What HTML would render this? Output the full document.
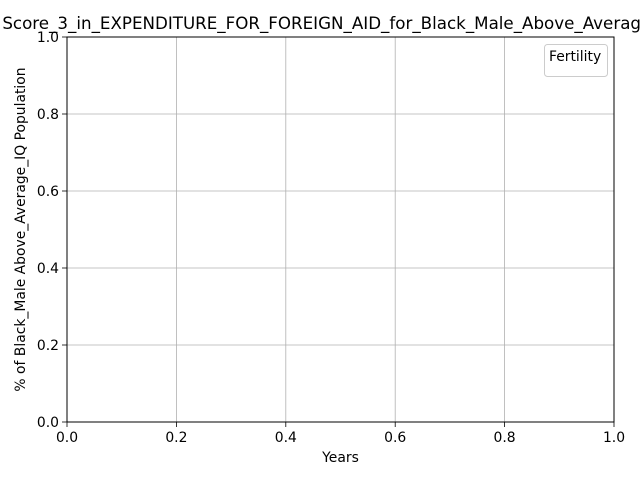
<!DOCTYPE html>
<html><head><meta charset="utf-8"><style>
html,body{margin:0;padding:0;background:#fff;}
svg{display:block;font-family:"DejaVu Sans","Liberation Sans",sans-serif;}
</style></head><body>
<svg id="chart" width="640" height="480" viewBox="0 0 640 480">
<rect width="640" height="480" fill="#fff"/>
<g id="grid"></g>
<g id="ticks"></g>
<rect x="67" y="37" width="547" height="385" fill="none" stroke="#000" stroke-width="1"/>
<text x="340" y="29" font-size="16.7" text-anchor="middle">Score_3_in_EXPENDITURE_FOR_FOREIGN_AID_for_Black_Male_Above_Average_IQ</text>
<text x="340.5" y="462" font-size="13.9" text-anchor="middle">Years</text>
<text transform="translate(25,229.5) rotate(-90)" font-size="13.9" text-anchor="middle">% of Black_Male Above_Average_IQ Population</text>
<g>
<rect x="544.5" y="44.5" width="63" height="32" rx="3" fill="#fff" fill-opacity="0.8" stroke="#ccc"/>
<text x="549" y="61" font-size="13.9">Fertility</text>
</g>
<g id="series"></g>
</svg>
<script>
const xTicks = [0.0, 0.2, 0.4, 0.6, 0.8, 1.0];
const yTicks = [0.0, 0.2, 0.4, 0.6, 0.8, 1.0];
const years = [];
const values = [];
const X0 = 67, X1 = 614, Y0 = 422, Y1 = 37;
function sx(v){ return X0 + (v - 0) / (1 - 0) * (X1 - X0); }
function sy(v){ return Y0 - (v - 0) / (1 - 0) * (Y0 - Y1); }
const NS = "http://www.w3.org/2000/svg";
const grid = document.getElementById('grid');
const ticks = document.getElementById('ticks');
function mk(tag, attrs, parent){ const e = document.createElementNS(NS, tag); for (const k in attrs) e.setAttribute(k, attrs[k]); parent.appendChild(e); return e; }
xTicks.forEach(t => {
  const x = sx(t);
  const g = mk('line', {x1:x, x2:x, y1:Y1, y2:Y0, stroke:'#b0b0b0', 'stroke-width':0.8}, grid);
  
  
  const tk = mk('line', {x1:x, x2:x, y1:Y0, y2:Y0+5, stroke:'#000', 'stroke-width':0.8}, ticks);
  
  
  const lb = mk('text', {x:x, y:Y0+20, 'font-size':13.9, 'text-anchor':'middle'}, ticks);
  lb.textContent = t.toFixed(1);
  
  
});
yTicks.forEach(t => {
  const y = sy(t);
  const g = mk('line', {x1:X0, x2:X1, y1:y, y2:y, stroke:'#b0b0b0', 'stroke-width':0.8}, grid);
  
  
  const tk = mk('line', {x1:X0-5, x2:X0, y1:y, y2:y, stroke:'#000', 'stroke-width':0.8}, ticks);
  
  
  const lb = mk('text', {x:X0-8, y:y+5, 'font-size':13.9, 'text-anchor':'end'}, ticks);
  lb.textContent = t.toFixed(1);
  
  
});
if (years.length) {
  const pts = years.map((y, i) => sx(y) + ',' + sy(values[i])).join(' ');
  const pl = mk('polyline', {points:pts, fill:'none', stroke:'#1f77b4', 'stroke-width':1.5}, document.getElementById('series'));
  
  
}
</script>
</body></html>
